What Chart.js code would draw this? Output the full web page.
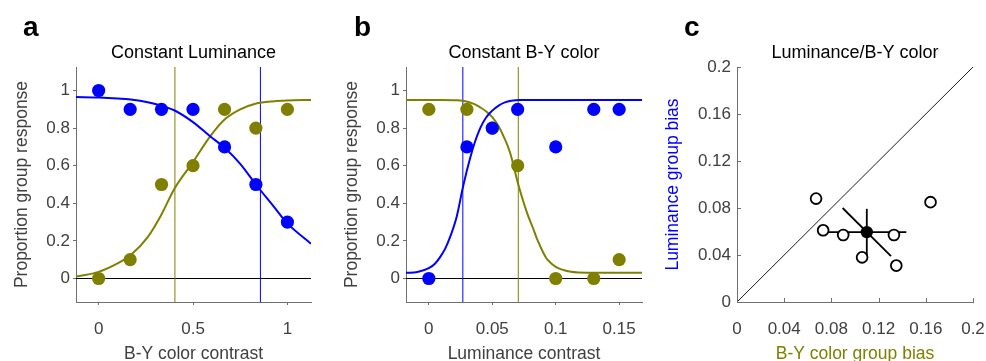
<!DOCTYPE html>
<html>
<head>
<meta charset="utf-8">
<script src="https://cdn.jsdelivr.net/npm/chart.js@4.4.1/dist/chart.umd.min.js"></script>
<style>
  html, body { margin: 0; padding: 0; background: #fff; overflow: hidden; }
  #wrap { position: relative; width: 986px; height: 361px; overflow: hidden; background: #fff; }
  #wrap canvas { position: absolute; top: 0; }
</style>
</head>
<body>
<div id="wrap">
  <canvas id="panelA" width="330" height="375" style="left:0px"></canvas>
  <canvas id="panelB" width="330" height="375" style="left:330px"></canvas>
  <canvas id="panelC" width="326" height="375" style="left:660px"></canvas>
</div>
<script>
// ---------- Panel a: constant luminance, varying B-Y colour contrast ----------
const colorContrastA = [0, 0.167, 0.333, 0.5, 0.667, 0.833, 1];
const lumGroupRespA  = [1, 0.9, 0.9, 0.9, 0.7, 0.5, 0.3];
const colGroupRespA  = [0, 0.1, 0.5, 0.6, 0.9, 0.8, 0.9];
const lumThresholdA  = 0.857;
const colThresholdA  = 0.404;
// fitted psychometric curves, sampled along the x range
const lumFitXA = [-0.12, 0, 0.1, 0.17, 0.26, 0.33, 0.4, 0.5, 0.59, 0.667, 0.75, 0.833, 0.93, 1, 1.125];
const lumFitYA = [0.965, 0.963, 0.958, 0.952, 0.938, 0.92, 0.895, 0.832, 0.757, 0.695, 0.61, 0.5, 0.38, 0.293, 0.185];
const colFitXA = [-0.12, 0, 0.1, 0.17, 0.26, 0.33, 0.4, 0.5, 0.59, 0.67, 0.75, 0.83, 0.93, 1, 1.125];
const colFitYA = [0.01, 0.035, 0.08, 0.125, 0.22, 0.335, 0.475, 0.62, 0.755, 0.848, 0.9, 0.93, 0.943, 0.947, 0.95];
const xRangeA = [-0.12, 1.125];
const xTickValuesA = [0, 0.5, 1];
const xTickLabelsA = ['0', '0.5', '1'];

// ---------- Panel b: constant B-Y colour, varying luminance contrast ----------
const lumContrastB  = [0, 0.03, 0.05, 0.07, 0.1, 0.13, 0.15];
const lumGroupRespB = [0, 0.7, 0.8, 0.9, 0.7, 0.9, 0.9];
const colGroupRespB = [0.9, 0.9, 0.8, 0.6, 0, 0, 0.1];
const lumThresholdB = 0.0268;
const colThresholdB = 0.0705;
const lumFitXB = [-0.018, -0.009, 0, 0.005, 0.009, 0.013, 0.017, 0.022, 0.027, 0.0325, 0.0365, 0.0405, 0.045, 0.05, 0.055, 0.06, 0.065, 0.072, 0.09, 0.168];
const lumFitYB = [0.03, 0.035, 0.055, 0.08, 0.115, 0.16, 0.225, 0.33, 0.49, 0.64, 0.73, 0.8, 0.855, 0.893, 0.92, 0.937, 0.945, 0.949, 0.95, 0.95];
const colFitXB = [-0.018, 0.01, 0.02, 0.027, 0.035, 0.0405, 0.045, 0.05, 0.055, 0.059, 0.064, 0.0705, 0.0776, 0.082, 0.0856, 0.09, 0.0935, 0.1, 0.106, 0.112, 0.125, 0.168];
const colFitYB = [0.95, 0.95, 0.948, 0.945, 0.93, 0.91, 0.89, 0.858, 0.81, 0.755, 0.67, 0.5, 0.345, 0.27, 0.205, 0.14, 0.1, 0.062, 0.045, 0.036, 0.031, 0.03];
const xRangeB = [-0.018, 0.168];
const xTickValuesB = [0, 0.05, 0.1, 0.15];
const xTickLabelsB = ['0', '0.05', '0.1', '0.15'];

// shared y axis of panels a and b
const yRangeAB = [-0.125, 1.125];
const yTickValuesAB = [0, 0.2, 0.4, 0.6, 0.8, 1];
const yTickLabelsAB = ['0', '0.2', '0.4', '0.6', '0.8', '1'];

// ---------- Panel c: per-observer group biases ----------
const colorBiasC = [0.067, 0.073, 0.090, 0.106, 0.133, 0.135, 0.164];
const lumBiasC   = [0.088, 0.061, 0.057, 0.038, 0.057, 0.031, 0.085];
const meanBiasC  = [0.110, 0.0595];          // [B-Y colour, luminance]
const errHalfC   = [0.0335, 0.0198, 0.0205]; // horizontal, vertical, diagonal (per component)
const rangeC = [0, 0.2];
const tickValuesC = [0, 0.04, 0.08, 0.12, 0.16, 0.2];
const tickLabelsC = ['0', '0.04', '0.08', '0.12', '0.16', '0.2'];

// ---------- styling ----------
const BLUE = '#0000ff';
const OLIVE = '#808000';
const AXIS_GREY = '#6f6f6f';
const TEXT_GREY = '#404040';
const FONT = "'Liberation Sans', Arial, Helvetica, sans-serif";
const TITLE_SIZE = 18;
const AXIS_TITLE_SIZE = 17.5;
const TICK_SIZE = 17;
Chart.defaults.font.family = FONT;
Chart.defaults.animation = false;

const pts = (xs, ys) => xs.map((x, i) => ({ x, y: ys[i] }));

// fixed axis box sizes, without extra room for overhanging tick labels
function fixX(height) {
  return s => { s.height = height; s.paddingLeft = 0; s.paddingRight = 0; };
}
function fixY(width) {
  return s => { s.width = width; s.paddingTop = 0; s.paddingBottom = 0; };
}

// panel letter and (optionally) inward tick marks
const panelMarks = {
  id: 'panelMarks',
  afterDraw(chart, args, o) {
    const ctx = chart.ctx;
    const a = chart.chartArea;
    ctx.save();
    if (o.inwardTicks) {
      const xs = chart.scales.x, ys = chart.scales.y;
      ctx.strokeStyle = AXIS_GREY;
      ctx.lineWidth = 1;
      ctx.beginPath();
      xs.ticks.forEach(t => {
        const p = Math.round(xs.getPixelForValue(t.value)) + 0.5;
        ctx.moveTo(p, a.bottom); ctx.lineTo(p, a.bottom - 4);
      });
      ys.ticks.forEach(t => {
        const p = Math.round(ys.getPixelForValue(t.value)) + 0.5;
        ctx.moveTo(a.left, p); ctx.lineTo(a.left + 4, p);
      });
      ctx.stroke();
    }
    if (o.letter) {
      ctx.fillStyle = '#000';
      ctx.font = 'bold 28px ' + FONT;
      ctx.textBaseline = 'alphabetic';
      ctx.fillText(o.letter, o.letterX, 36);
    }
    ctx.restore();
  }
};

function lineSet(data, color, width, order) {
  return { type: 'scatter', data, showLine: true, borderColor: color, borderWidth: width,
           pointRadius: 0, pointHoverRadius: 0, fill: false, order };
}
function curveSet(data, color, order) {
  const d = lineSet(data, color, 2, order);
  d.cubicInterpolationMode = 'monotone';
  return d;
}
function dotSet(data, color, order) {
  return { type: 'scatter', data, showLine: false, backgroundColor: color, borderColor: color,
           borderWidth: 0, pointRadius: 6.6, pointHoverRadius: 6.6, order };
}

function psychPanel(id, cfg) {
  return new Chart(document.getElementById(id), {
    type: 'scatter',
    data: {
      datasets: [
        dotSet(pts(cfg.x, cfg.lum), BLUE, 1),
        dotSet(pts(cfg.x, cfg.col), OLIVE, 2),
        curveSet(pts(cfg.lumFitX, cfg.lumFitY), BLUE, 4),
        curveSet(pts(cfg.colFitX, cfg.colFitY), OLIVE, 5),
        lineSet(pts([cfg.lumT, cfg.lumT], yRangeAB), BLUE, 1, 7),
        lineSet(pts([cfg.colT, cfg.colT], yRangeAB), OLIVE, 1, 8),
        lineSet(pts(cfg.xRange, [0, 0]), '#000', 1, 9)
      ]
    },
    options: {
      responsive: false,
      animation: false,
      events: [],
      layout: { padding: { left: 0, right: cfg.rightPad, top: 0, bottom: 0 } },
      plugins: {
        legend: { display: false },
        tooltip: { enabled: false },
        title: { display: true, text: cfg.title, color: '#000', fullSize: false,
                 font: { size: TITLE_SIZE, weight: 'normal' }, padding: { top: 42.2, bottom: 3.2 } },
        panelMarks: { letter: cfg.letter, letterX: cfg.letterX, inwardTicks: false }
      },
      scales: {
        x: {
          type: 'linear', min: cfg.xRange[0], max: cfg.xRange[1],
          afterBuildTicks: s => { s.ticks = cfg.xTicks.map(v => ({ value: v })); },
          afterFit: fixX(73),
          grid: { display: true, drawOnChartArea: false, drawTicks: true, tickLength: 3, color: AXIS_GREY },
          border: { display: true, color: AXIS_GREY, width: 1 },
          ticks: { color: TEXT_GREY, font: { size: TICK_SIZE }, padding: 14, maxRotation: 0,
                   callback: (v, i) => cfg.xLabels[i] },
          title: { display: true, text: cfg.xTitle, color: TEXT_GREY, font: { size: AXIS_TITLE_SIZE },
                   padding: { top: 0, bottom: 10.8 } }
        },
        y: {
          type: 'linear', min: yRangeAB[0], max: yRangeAB[1],
          afterBuildTicks: s => { s.ticks = yTickValuesAB.map(v => ({ value: v })); },
          afterFit: fixY(76),
          grid: { display: true, drawOnChartArea: false, drawTicks: true, tickLength: 3, color: AXIS_GREY },
          border: { display: true, color: AXIS_GREY, width: 1 },
          ticks: { color: TEXT_GREY, font: { size: TICK_SIZE }, padding: 3,
                   callback: (v, i) => yTickLabelsAB[i] },
          title: { display: true, text: 'Proportion group response', color: TEXT_GREY, font: { size: AXIS_TITLE_SIZE },
                   padding: { top: 11.5, bottom: 0 } }
        }
      }
    },
    plugins: [panelMarks]
  });
}

psychPanel('panelA', {
  title: 'Constant Luminance', letter: 'a', letterX: 23, rightPad: 19,
  x: colorContrastA, lum: lumGroupRespA, col: colGroupRespA,
  lumFitX: lumFitXA, lumFitY: lumFitYA, colFitX: colFitXA, colFitY: colFitYA,
  lumT: lumThresholdA, colT: colThresholdA, xRange: xRangeA,
  xTicks: xTickValuesA, xLabels: xTickLabelsA, xTitle: 'B-Y color contrast'
});

psychPanel('panelB', {
  title: 'Constant B-Y color', letter: 'b', letterX: 24, rightPad: 18,
  x: lumContrastB, lum: lumGroupRespB, col: colGroupRespB,
  lumFitX: lumFitXB, lumFitY: lumFitYB, colFitX: colFitXB, colFitY: colFitYB,
  lumT: lumThresholdB, colT: colThresholdB, xRange: xRangeB,
  xTicks: xTickValuesB, xLabels: xTickLabelsB, xTitle: 'Luminance contrast'
});

// Panel c: bias scatter with mean and error bars
const [mx, my] = meanBiasC;
const [ex, ey, ed] = errHalfC;
new Chart(document.getElementById('panelC'), {
  type: 'scatter',
  data: {
    datasets: [
      { type: 'scatter', data: [{ x: mx, y: my }], backgroundColor: '#000', borderColor: '#000',
        borderWidth: 0, pointRadius: 6.2, order: 1 },
      { type: 'scatter', data: pts(colorBiasC, lumBiasC), backgroundColor: '#fff', borderColor: '#000',
        borderWidth: 1.8, pointRadius: 5.4, order: 2 },
      lineSet([{ x: mx - ex, y: my }, { x: mx + ex, y: my }], '#000', 1.8, 4),
      lineSet([{ x: mx, y: my - ey }, { x: mx, y: my + ey }], '#000', 1.8, 4),
      lineSet([{ x: mx - ed, y: my + ed }, { x: mx + ed, y: my - ed }], '#000', 1.8, 4),
      lineSet(pts(rangeC, rangeC), '#000', 0.9, 9)
    ]
  },
  options: {
    responsive: false,
    animation: false,
    events: [],
    layout: { padding: { left: 0, right: 13, top: 0, bottom: 0 } },
    plugins: {
      legend: { display: false },
      tooltip: { enabled: false },
      title: { display: true, text: 'Luminance/B-Y color', color: '#000', fullSize: false,
               font: { size: TITLE_SIZE, weight: 'normal' }, padding: { top: 42.2, bottom: 3.2 } },
      panelMarks: { letter: 'c', letterX: 24, inwardTicks: true }
    },
    scales: {
      x: {
        type: 'linear', min: rangeC[0], max: rangeC[1],
        afterBuildTicks: s => { s.ticks = tickValuesC.map(v => ({ value: v })); },
        afterFit: fixX(73),
        grid: { display: false, drawTicks: false },
        border: { display: true, color: AXIS_GREY, width: 1 },
        ticks: { color: TEXT_GREY, font: { size: TICK_SIZE }, padding: 17, maxRotation: 0,
                 callback: (v, i) => tickLabelsC[i] },
        title: { display: true, text: 'B-Y color group bias', color: OLIVE, font: { size: AXIS_TITLE_SIZE },
                 padding: { top: 0, bottom: 10.8 } }
      },
      y: {
        type: 'linear', min: rangeC[0], max: rangeC[1],
        afterBuildTicks: s => { s.ticks = tickValuesC.map(v => ({ value: v })); },
        afterFit: fixY(77),
        grid: { display: false, drawTicks: false },
        border: { display: true, color: AXIS_GREY, width: 1 },
        ticks: { color: TEXT_GREY, font: { size: TICK_SIZE }, padding: 6,
                 callback: (v, i) => tickLabelsC[i] },
        title: { display: true, text: 'Luminance group bias', color: BLUE, font: { size: AXIS_TITLE_SIZE },
                 padding: { top: 2.3, bottom: 0 } }
      }
    }
  },
  plugins: [panelMarks]
});
</script>
</body>
</html>
